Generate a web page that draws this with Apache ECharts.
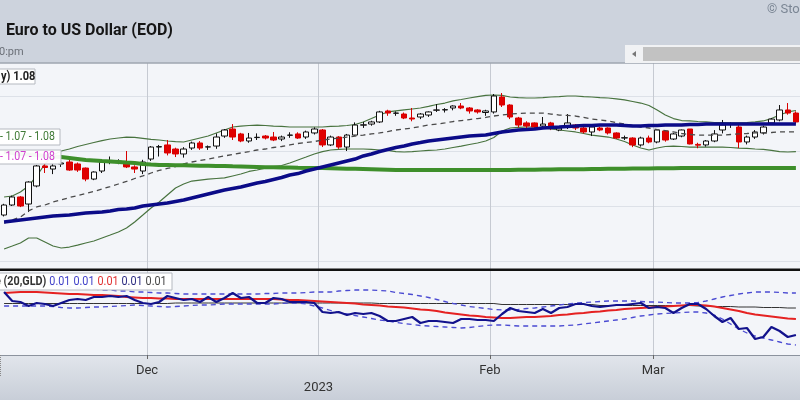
<!DOCTYPE html>
<html><head><meta charset="utf-8">
<script src="https://cdn.jsdelivr.net/npm/echarts@6/dist/echarts.min.js"></script>
<style>html,body{margin:0;padding:0;background:#fff}#c{width:800px;height:400px}</style>
</head><body><div id="c"></div>
<script>
const dates = [
'2022-11-07','2022-11-08','2022-11-09','2022-11-10','2022-11-11','2022-11-14','2022-11-15','2022-11-16','2022-11-17','2022-11-18',
'2022-11-21','2022-11-22','2022-11-23','2022-11-24','2022-11-25','2022-11-28','2022-11-29','2022-11-30',
'2022-12-01','2022-12-02','2022-12-05','2022-12-06','2022-12-07','2022-12-08','2022-12-09','2022-12-12','2022-12-13','2022-12-14',
'2022-12-15','2022-12-16','2022-12-19','2022-12-20','2022-12-21','2022-12-22','2022-12-23','2022-12-27','2022-12-28','2022-12-29','2022-12-30',
'2023-01-03','2023-01-04','2023-01-05','2023-01-06','2023-01-09','2023-01-10','2023-01-11','2023-01-12','2023-01-13','2023-01-16',
'2023-01-17','2023-01-18','2023-01-19','2023-01-20','2023-01-23','2023-01-24','2023-01-25','2023-01-26','2023-01-27','2023-01-30','2023-01-31',
'2023-02-01','2023-02-02','2023-02-03','2023-02-06','2023-02-07','2023-02-08','2023-02-09','2023-02-10','2023-02-13','2023-02-14',
'2023-02-15','2023-02-16','2023-02-17','2023-02-20','2023-02-21','2023-02-22','2023-02-23','2023-02-24','2023-02-27','2023-02-28',
'2023-03-01','2023-03-02','2023-03-03','2023-03-06','2023-03-07','2023-03-08','2023-03-09','2023-03-10','2023-03-13','2023-03-14',
'2023-03-15','2023-03-16','2023-03-17','2023-03-20','2023-03-21','2023-03-22','2023-03-23','2023-03-24'];

// [open, close, low, high]
const ohlc = [
[0.9918,1.0009,0.9905,1.0020],[1.0009,1.0082,1.0000,1.0095],[1.0082,1.0000,0.9990,1.0090],[1.0018,1.0218,0.9945,1.0225],[1.0182,1.0364,1.0170,1.0373],
[1.0364,1.0350,1.0300,1.0390],[1.0336,1.0364,1.0290,1.0391],[1.0382,1.0391,1.0355,1.0410],[1.0400,1.0327,1.0320,1.0420],[1.0382,1.0327,1.0310,1.0395],
[1.0345,1.0245,1.0225,1.0350],[1.0245,1.0309,1.0235,1.0315],[1.0318,1.0400,1.0300,1.0410],[1.0410,1.0414,1.0380,1.0450],[1.0405,1.0407,1.0380,1.0425],
[1.0391,1.0355,1.0345,1.0500],[1.0355,1.0336,1.0300,1.0370],[1.0318,1.0400,1.0290,1.0420],[1.0427,1.0536,1.0410,1.0545],[1.0536,1.0540,1.0450,1.0555],
[1.0555,1.0482,1.0460,1.0600],[1.0518,1.0473,1.0445,1.0530],[1.0473,1.0518,1.0440,1.0535],[1.0527,1.0573,1.0510,1.0585],[1.0573,1.0527,1.0510,1.0590],
[1.0536,1.0538,1.0510,1.0550],[1.0545,1.0627,1.0520,1.0660],[1.0636,1.0691,1.0620,1.0700],[1.0700,1.0627,1.0600,1.0745],[1.0655,1.0591,1.0580,1.0665],
[1.0591,1.0618,1.0575,1.0664],[1.0622,1.0625,1.0600,1.0660],[1.0636,1.0618,1.0605,1.0645],[1.0627,1.0600,1.0590,1.0673],[1.0609,1.0627,1.0590,1.0640],
[1.0643,1.0645,1.0620,1.0670],[1.0655,1.0618,1.0610,1.0670],[1.0627,1.0673,1.0610,1.0685],[1.0664,1.0700,1.0650,1.0715],[1.0691,1.0555,1.0536,1.0700],
[1.0555,1.0627,1.0545,1.0640],[1.0627,1.0536,1.0520,1.0635],[1.0536,1.0645,1.0500,1.0655],[1.0645,1.0736,1.0640,1.0760],[1.0735,1.0738,1.0710,1.0765],
[1.0745,1.0764,1.0730,1.0775],[1.0764,1.0855,1.0755,1.0865],[1.0864,1.0845,1.0820,1.0875],[1.0843,1.0845,1.0820,1.0860],[1.0836,1.0800,1.0790,1.0850],
[1.0800,1.0791,1.0770,1.0891],[1.0809,1.0836,1.0790,1.0845],[1.0827,1.0855,1.0810,1.0860],[1.0871,1.0873,1.0855,1.0927],[1.0873,1.0876,1.0850,1.0890],
[1.0891,1.0909,1.0870,1.0915],[1.0909,1.0891,1.0880,1.0936],[1.0891,1.0864,1.0840,1.0900],[1.0873,1.0855,1.0840,1.0880],[1.0850,1.0864,1.0820,1.0875],
[1.0855,1.1000,1.0840,1.1018],[1.0991,1.0918,1.0900,1.1027],[1.0918,1.0809,1.0790,1.0925],[1.0800,1.0736,1.0715,1.0810],[1.0755,1.0727,1.0700,1.0770],
[1.0755,1.0718,1.0695,1.0760],[1.0727,1.0745,1.0710,1.0809],[1.0755,1.0709,1.0690,1.0765],[1.0691,1.0709,1.0680,1.0720],[1.0727,1.0755,1.0700,1.0836],
[1.0736,1.0709,1.0690,1.0745],[1.0709,1.0673,1.0660,1.0720],[1.0673,1.0718,1.0636,1.0725],[1.0709,1.0691,1.0680,1.0720],[1.0709,1.0664,1.0650,1.0715],
[1.0664,1.0618,1.0610,1.0670],[1.0618,1.0621,1.0600,1.0640],[1.0618,1.0555,1.0535,1.0625],[1.0555,1.0618,1.0540,1.0630],[1.0618,1.0582,1.0570,1.0640],
[1.0582,1.0691,1.0570,1.0695],[1.0682,1.0600,1.0585,1.0690],[1.0609,1.0655,1.0600,1.0665],[1.0636,1.0691,1.0625,1.0695],[1.0700,1.0564,1.0560,1.0700],
[1.0560,1.0553,1.0525,1.0575],[1.0555,1.0591,1.0540,1.0600],[1.0591,1.0655,1.0580,1.0690],[1.0691,1.0736,1.0660,1.0782],[1.0743,1.0745,1.0710,1.0760],
[1.0718,1.0582,1.0527,1.0740],[1.0582,1.0627,1.0560,1.0640],[1.0627,1.0673,1.0610,1.0690],[1.0664,1.0718,1.0650,1.0730],[1.0755,1.0790,1.0740,1.0800],
[1.0782,1.0873,1.0770,1.0918],[1.0873,1.0845,1.0830,1.0936],[1.0845,1.0764,1.0745,1.0860]];

const ma20 = [
0.9845,0.9873,0.9900,0.9955,0.9991,1.0009,1.0036,1.0055,1.0077,1.0095,
1.0114,1.0132,1.0155,1.0177,1.0200,1.0223,1.0250,1.0273,1.0300,1.0323,
1.0341,1.0359,1.0382,1.0400,1.0414,1.0427,1.0441,1.0455,1.0468,1.0482,
1.0495,1.0509,1.0518,1.0532,1.0541,1.0555,1.0568,1.0577,1.0586,1.0600,
1.0609,1.0618,1.0627,1.0636,1.0645,1.0655,1.0664,1.0677,1.0691,1.0700,
1.0709,1.0723,1.0736,1.0745,1.0755,1.0768,1.0777,1.0786,1.0795,1.0805,
1.0818,1.0827,1.0836,1.0841,1.0845,1.0845,1.0845,1.0836,1.0827,1.0823,
1.0818,1.0805,1.0791,1.0782,1.0773,1.0759,1.0745,1.0732,1.0718,1.0709,
1.0695,1.0686,1.0673,1.0659,1.0650,1.0645,1.0645,1.0645,1.0645,1.0650,
1.0655,1.0659,1.0664,1.0664,1.0668,1.0673,1.0673,1.0673];

const bbUpper = [
1.0082,1.0091,1.0127,1.0182,1.0273,1.0382,1.0464,1.0500,1.0518,1.0541,
1.0559,1.0577,1.0595,1.0609,1.0618,1.0627,1.0623,1.0614,1.0605,1.0600,
1.0591,1.0586,1.0582,1.0600,1.0618,1.0636,1.0664,1.0691,1.0718,1.0727,
1.0732,1.0736,1.0732,1.0727,1.0723,1.0718,1.0718,1.0718,1.0718,1.0718,
1.0723,1.0727,1.0732,1.0741,1.0764,1.0795,1.0827,1.0855,1.0864,1.0873,
1.0882,1.0891,1.0905,1.0923,1.0936,1.0955,1.0968,1.0982,1.0995,1.1005,
1.1009,1.1005,1.0991,1.0986,1.0982,1.0982,1.0986,1.0991,1.0995,1.1000,
1.1000,1.0995,1.0991,1.0986,1.0982,1.0973,1.0964,1.0950,1.0936,1.0914,
1.0873,1.0827,1.0795,1.0777,1.0773,1.0768,1.0764,1.0759,1.0759,1.0755,
1.0755,1.0759,1.0764,1.0773,1.0795,1.0827,1.0855,1.0868];

const bbLower = [
0.9609,0.9636,0.9664,0.9709,0.9709,0.9673,0.9636,0.9618,0.9627,0.9645,
0.9664,0.9682,0.9709,0.9736,0.9764,0.9800,0.9855,0.9918,0.9982,1.0036,
1.0100,1.0164,1.0200,1.0227,1.0236,1.0245,1.0250,1.0255,1.0273,1.0291,
1.0314,1.0327,1.0345,1.0359,1.0368,1.0391,1.0418,1.0445,1.0473,1.0495,
1.0509,1.0514,1.0518,1.0518,1.0518,1.0514,1.0509,1.0505,1.0495,1.0491,
1.0495,1.0500,1.0505,1.0509,1.0518,1.0532,1.0545,1.0559,1.0573,1.0591,
1.0623,1.0682,1.0709,1.0714,1.0718,1.0718,1.0709,1.0700,1.0691,1.0682,
1.0673,1.0659,1.0645,1.0636,1.0627,1.0609,1.0586,1.0555,1.0527,1.0509,
1.0527,1.0541,1.0545,1.0541,1.0536,1.0536,1.0536,1.0536,1.0536,1.0532,
1.0527,1.0523,1.0518,1.0514,1.0505,1.0495,1.0491,1.0495];

const ma50 = [
0.9855,0.9864,0.9873,0.9882,0.9891,0.9900,0.9909,0.9914,0.9918,0.9927,
0.9936,0.9941,0.9945,0.9955,0.9968,0.9973,0.9982,1.0000,1.0009,1.0018,
1.0027,1.0041,1.0055,1.0073,1.0091,1.0109,1.0127,1.0145,1.0159,1.0173,
1.0191,1.0209,1.0223,1.0241,1.0259,1.0282,1.0295,1.0318,1.0336,1.0355,
1.0373,1.0391,1.0409,1.0427,1.0455,1.0473,1.0495,1.0514,1.0532,1.0545,
1.0564,1.0577,1.0591,1.0600,1.0609,1.0618,1.0627,1.0636,1.0641,1.0645,
1.0659,1.0673,1.0682,1.0691,1.0695,1.0700,1.0709,1.0714,1.0718,1.0723,
1.0727,1.0732,1.0732,1.0736,1.0736,1.0736,1.0732,1.0727,1.0727,1.0732,
1.0732,1.0736,1.0736,1.0736,1.0741,1.0741,1.0745,1.0745,1.0745,1.0745,
1.0745,1.0745,1.0745,1.0745,1.0745,1.0745,1.0745,1.0745];

const ma200 = [
1.0491,1.0482,1.0473,1.0468,1.0464,1.0455,1.0450,1.0445,1.0436,1.0427,
1.0418,1.0414,1.0409,1.0405,1.0400,1.0395,1.0391,1.0382,1.0377,1.0373,
1.0373,1.0371,1.0370,1.0368,1.0366,1.0366,1.0364,1.0364,1.0361,1.0359,
1.0357,1.0355,1.0353,1.0352,1.0350,1.0349,1.0347,1.0346,1.0345,1.0345,
1.0343,1.0341,1.0339,1.0338,1.0336,1.0334,1.0332,1.0330,1.0327,1.0327,
1.0327,1.0327,1.0327,1.0327,1.0327,1.0327,1.0327,1.0327,1.0327,1.0327,
1.0327,1.0328,1.0328,1.0329,1.0330,1.0330,1.0331,1.0332,1.0333,1.0334,
1.0334,1.0335,1.0336,1.0337,1.0338,1.0339,1.0339,1.0340,1.0341,1.0342,
1.0343,1.0343,1.0344,1.0345,1.0345,1.0345,1.0345,1.0345,1.0345,1.0345,
1.0345,1.0345,1.0345,1.0345,1.0345,1.0345,1.0345,1.0345];

// lower panel: EUR/USD : GLD ratio and its bands
const ratio = [
0.00626,0.00608,0.00606,0.00598,0.00604,0.00602,0.00598,0.00604,0.00610,0.00612,
0.00610,0.00616,0.00616,0.00618,0.00616,0.00618,0.00610,0.00604,0.00602,0.00606,
0.00618,0.00614,0.00610,0.00612,0.00606,0.00616,0.00606,0.00614,0.00624,0.00614,
0.00616,0.00604,0.00604,0.00614,0.00612,0.00606,0.00606,0.00606,0.00604,0.00586,
0.00584,0.00586,0.00580,0.00584,0.00582,0.00584,0.00578,0.00568,0.00568,0.00572,
0.00576,0.00564,0.00568,0.00568,0.00566,0.00564,0.00572,0.00572,0.00570,0.00570,
0.00568,0.00582,0.00594,0.00588,0.00586,0.00584,0.00592,0.00584,0.00594,0.00596,
0.00602,0.00602,0.00598,0.00596,0.00598,0.00600,0.00600,0.00602,0.00604,0.00594,
0.00596,0.00594,0.00584,0.00594,0.00602,0.00602,0.00592,0.00578,0.00566,0.00574,
0.00552,0.00554,0.00532,0.00536,0.00556,0.00548,0.00536,0.00540];

const ratioMA = [
0.00624,0.00625,0.00626,0.00626,0.00626,0.00625,0.00624,0.00623,0.00622,0.00622,
0.00621,0.00620,0.00620,0.00619,0.00618,0.00616,0.00615,0.00614,0.00614,0.00613,
0.00613,0.00612,0.00612,0.00612,0.00612,0.00612,0.00612,0.00612,0.00612,0.00612,
0.00612,0.00612,0.00612,0.00612,0.00611,0.00610,0.00610,0.00609,0.00608,0.00607,
0.00606,0.00605,0.00604,0.00603,0.00601,0.00600,0.00599,0.00597,0.00596,0.00595,
0.00593,0.00591,0.00590,0.00588,0.00585,0.00583,0.00581,0.00579,0.00578,0.00576,
0.00575,0.00574,0.00574,0.00575,0.00576,0.00576,0.00577,0.00578,0.00580,0.00581,
0.00583,0.00584,0.00586,0.00587,0.00589,0.00590,0.00592,0.00593,0.00594,0.00595,
0.00596,0.00597,0.00598,0.00599,0.00600,0.00600,0.00599,0.00597,0.00594,0.00591,
0.00588,0.00584,0.00581,0.00579,0.00577,0.00575,0.00573,0.00572];

const ratioUpper = [
0.00634,0.00634,0.00636,0.00638,0.00640,0.00640,0.00640,0.00638,0.00636,0.00634,
0.00632,0.00632,0.00630,0.00630,0.00628,0.00628,0.00626,0.00626,0.00625,0.00624,
0.00624,0.00623,0.00622,0.00622,0.00622,0.00622,0.00622,0.00622,0.00622,0.00622,
0.00622,0.00622,0.00623,0.00623,0.00624,0.00624,0.00624,0.00625,0.00626,0.00626,
0.00626,0.00628,0.00629,0.00630,0.00630,0.00630,0.00629,0.00628,0.00625,0.00623,
0.00621,0.00618,0.00615,0.00611,0.00607,0.00603,0.00600,0.00597,0.00595,0.00593,
0.00591,0.00590,0.00590,0.00591,0.00593,0.00594,0.00596,0.00598,0.00600,0.00602,
0.00604,0.00605,0.00606,0.00607,0.00608,0.00608,0.00608,0.00608,0.00607,0.00606,
0.00606,0.00605,0.00604,0.00604,0.00604,0.00605,0.00608,0.00612,0.00616,0.00619,
0.00622,0.00624,0.00626,0.00626,0.00626,0.00625,0.00624,0.00624];

const ratioLower = [
0.00598,0.00598,0.00598,0.00598,0.00598,0.00598,0.00597,0.00595,0.00594,0.00594,
0.00595,0.00596,0.00596,0.00597,0.00598,0.00599,0.00600,0.00599,0.00598,0.00597,
0.00596,0.00597,0.00598,0.00599,0.00600,0.00600,0.00601,0.00602,0.00602,0.00602,
0.00602,0.00602,0.00602,0.00602,0.00603,0.00604,0.00604,0.00602,0.00598,0.00594,
0.00589,0.00585,0.00582,0.00579,0.00576,0.00573,0.00570,0.00568,0.00565,0.00563,
0.00561,0.00559,0.00558,0.00557,0.00556,0.00555,0.00554,0.00555,0.00557,0.00559,
0.00560,0.00560,0.00559,0.00558,0.00558,0.00558,0.00558,0.00558,0.00558,0.00559,
0.00560,0.00562,0.00564,0.00566,0.00568,0.00570,0.00572,0.00575,0.00578,0.00580,
0.00582,0.00583,0.00584,0.00585,0.00586,0.00586,0.00584,0.00580,0.00572,0.00562,
0.00552,0.00544,0.00538,0.00534,0.00530,0.00526,0.00522,0.00520];

const ratioLong = [
0.00603,0.00603,0.00603,0.00603,0.00603,0.00603,0.00603,0.00603,0.00603,0.00603,
0.00603,0.00603,0.00603,0.00603,0.00603,0.00603,0.00603,0.00603,0.00603,0.00603,
0.00603,0.00604,0.00604,0.00604,0.00604,0.00604,0.00604,0.00604,0.00604,0.00604,
0.00604,0.00604,0.00604,0.00604,0.00604,0.00604,0.00604,0.00604,0.00604,0.00604,
0.00604,0.00604,0.00604,0.00604,0.00604,0.00604,0.00603,0.00603,0.00603,0.00603,
0.00603,0.00603,0.00603,0.00603,0.00603,0.00603,0.00603,0.00603,0.00603,0.00603,
0.00603,0.00601,0.00601,0.00601,0.00601,0.00601,0.00601,0.00601,0.00601,0.00601,
0.00601,0.00601,0.00601,0.00599,0.00599,0.00599,0.00599,0.00599,0.00599,0.00599,
0.00599,0.00599,0.00599,0.00599,0.00599,0.00598,0.00598,0.00597,0.00597,0.00597,
0.00596,0.00596,0.00596,0.00595,0.00595,0.00595,0.00594,0.00594];

const tickDates = ['2022-12-01','2023-01-03','2023-02-01','2023-03-01'];
const tickLabels = ['Dec','\n2023','Feb','Mar'];
const priceLegend = '1.08';
const bbLegend = '- 1.07 - 1.08';
const maLegend = '- 1.07 - 1.08';
const ratioLegend = ['0.01','0.01','0.01','0.01','0.01'];

const N = dates.length;
const band = 8.22;
const tickIdx = tickDates.map(d => dates.indexOf(d));
const janIdx = tickIdx[1];
const isTick = i => tickIdx.indexOf(i) >= 0;

const chart = echarts.init(document.getElementById('c'));
const line = (name, data, x, y, color, width, type, z) => ({
  name, type: 'line', data, xAxisIndex: x, yAxisIndex: y, showSymbol: false, symbol: 'none',
  lineStyle: { color, width, type: type || 'solid' }, z: z || 4, silent: true
});
const VA = { textVerticalAlign: 'middle', verticalAlign: 'middle' };

chart.setOption({
  animation: false,
  backgroundColor: '#f3f5f9',
  grid: [
    { left: 0, top: 63, width: N * band, height: 198 },
    { left: 0, top: 271, width: N * band, height: 84 },
    { left: 0, top: 63, width: N * band, height: 292 }
  ],
  xAxis: [
    { gridIndex: 0, type: 'category', data: dates, boundaryGap: true, axisLine: { show: false }, axisTick: { show: false }, axisLabel: { show: false }, splitLine: { show: false } },
    { gridIndex: 1, type: 'category', data: dates, boundaryGap: true, position: 'bottom',
      axisLine: { show: true, lineStyle: { color: '#8c939e', width: 1 } },
      axisTick: { show: true, interval: (i) => isTick(i) && i !== janIdx, length: 4, lineStyle: { color: '#666' } },
      axisLabel: { show: true, interval: (i) => isTick(i), formatter: (v, i) => tickLabels[tickIdx.indexOf(i)] || '',
        margin: 7, lineHeight: 17, color: '#333', fontSize: 13, fontFamily: 'Roboto', padding: [0, 8, 0, 0] },
      splitLine: { show: false } },
    { gridIndex: 1, type: 'category', data: dates, boundaryGap: true, position: 'bottom', offset: 0,
      axisLine: { show: false }, axisLabel: { show: false },
      axisTick: { show: true, interval: (i) => i === janIdx, length: 22, lineStyle: { color: '#888', type: 'dotted' } } },
    { gridIndex: 2, type: 'category', data: dates, boundaryGap: true, axisLine: { show: false }, axisTick: { show: false }, axisLabel: { show: false },
      splitLine: { show: true, interval: (i) => isTick(i), lineStyle: { color: '#c6cad2', width: 1 } } }
  ],
  yAxis: [
    { gridIndex: 0, type: 'value', min: 0.95, max: 1.13, interval: 0.05, axisLine: { show: false }, axisTick: { show: false }, axisLabel: { show: false },
      splitLine: { show: true, lineStyle: { color: '#dde1e8', width: 1 } } },
    { gridIndex: 1, type: 'value', min: 0.0050, max: 0.00668, axisLine: { show: false }, axisTick: { show: false }, axisLabel: { show: false }, splitLine: { show: false } },
    { gridIndex: 2, type: 'value', show: false }
  ],
  series: [
    line('BB upper', bbUpper, 0, 0, '#48733f', 1.2, 'solid', 3),
    line('BB lower', bbLower, 0, 0, '#48733f', 1.2, 'solid', 3),
    { name: 'EUR/USD', type: 'candlestick', data: ohlc, xAxisIndex: 0, yAxisIndex: 0, barWidth: 6, z: 4, silent: true,
      itemStyle: { color: '#ffffff', color0: '#e00000', borderColor: '#111111', borderColor0: '#d80000', borderWidth: 1 } },
    line('MA20', ma20, 0, 0, '#4a4a4a', 1.3, [5, 4], 5),
    line('MA200', ma200, 0, 0, '#3e8f2b', 4, 'solid', 5),
    line('MA50', ma50, 0, 0, '#0b0b88', 3.5, 'solid', 6),
    line('Long', ratioLong, 1, 1, '#333333', 1, 'solid', 3),
    line('Upper', ratioUpper, 1, 1, '#4a4ad2', 1.3, [5, 4], 3),
    line('Lower', ratioLower, 1, 1, '#4a4ad2', 1.3, [5, 4], 3),
    line('MA', ratioMA, 1, 1, '#e52222', 2.2, 'solid', 4),
    line('Ratio', ratio, 1, 1, '#12128c', 2.2, 'solid', 5)
  ],
  graphic: [
    { type: 'rect', z: -1, shape: { x: 0, y: 0, width: 800, height: 63 }, style: { fill: '#cdd3dd' } },
    { type: 'rect', z: -1, shape: { x: 0, y: 356, width: 800, height: 44 },
      style: { fill: new echarts.graphic.LinearGradient(0, 0, 0, 1, [{ offset: 0, color: '#e1e5eb' }, { offset: 1, color: '#c8ced8' }]) } },
    { type: 'rect', z: 20, shape: { x: 0, y: 62.5, width: 800, height: 1 }, style: { fill: '#8a919b' } },
    { type: 'rect', z: 20, shape: { x: 0, y: 268.5, width: 800, height: 2.5 }, style: { fill: '#111' } },
    { type: 'text', z: 20, x: 6, y: 31, style: Object.assign({ text: 'Euro to US Dollar (EOD)', font: 'bold 16px Roboto', fill: '#161616' }, VA) },
    { type: 'text', z: 20, x: -1, y: 52, style: Object.assign({ text: '0:pm', font: '11px Roboto', fill: '#6b7078' }, VA) },
    { type: 'text', z: 20, x: 767, y: 10, style: Object.assign({ text: '© Sto', font: '13px Roboto', fill: '#7b8694' }, VA) },
    { type: 'rect', z: 20, shape: { x: 625, y: 45, width: 180, height: 18 }, style: { fill: '#f1f2f4' } },
    { type: 'rect', z: 21, shape: { x: 643, y: 47, width: 160, height: 14 }, style: { fill: '#c2c2c2' } },
    { type: 'polygon', z: 21, shape: { points: [[632, 54], [636, 51], [636, 57]] }, style: { fill: '#777' } },
    { type: 'rect', z: 30, shape: { x: -1, y: 69, width: 36, height: 15 }, style: { fill: 'rgba(255,255,255,0.95)', stroke: '#b5b9c0', lineWidth: 1 } },
    { type: 'text', z: 31, x: 1, y: 77, scaleX: 0.92, style: Object.assign({ text: 'y) ' + priceLegend, font: 'bold 12px Roboto', fill: '#222' }, VA) },
    { type: 'rect', z: 30, shape: { x: -1, y: 129, width: 61, height: 16 }, style: { fill: 'rgba(255,255,255,0.95)', stroke: '#b5b9c0', lineWidth: 1 } },
    { type: 'text', z: 31, x: 0, y: 137, scaleX: 0.88, style: Object.assign({ text: bbLegend, font: '12px Roboto', fill: '#3f7a35' }, VA) },
    { type: 'rect', z: 30, shape: { x: -1, y: 150, width: 62, height: 14 }, style: { fill: 'rgba(255,255,255,0.95)', stroke: '#b5b9c0', lineWidth: 1 } },
    { type: 'text', z: 31, x: 0, y: 157, scaleX: 0.88, style: Object.assign({ text: maLegend, font: '12px Roboto', fill: '#d040d0' }, VA) },
    { type: 'rect', z: 30, shape: { x: -1, y: 273, width: 173, height: 17 }, style: { fill: 'rgba(255,255,255,0.95)', stroke: '#b5b9c0', lineWidth: 1 } },
    { type: 'text', z: 31, x: -5, y: 282, scaleX: 0.9, style: Object.assign({
        text: '{k|e (20,GLD)} {b|' + ratioLegend[0] + '} {b|' + ratioLegend[1] + '} {r|' + ratioLegend[2] + '} {n|' + ratioLegend[3] + '} {g|' + ratioLegend[4] + '}',
        rich: {
          k: { font: 'bold 12px Roboto', fill: '#333', color: '#333' },
          b: { font: '12px Roboto', fill: '#4040c8', color: '#4040c8' },
          r: { font: '12px Roboto', fill: '#e03030', color: '#e03030' },
          n: { font: '12px Roboto', fill: '#2a2a80', color: '#2a2a80' },
          g: { font: '12px Roboto', fill: '#444', color: '#444' }
        } }, VA) }
  ]
});
</script></body></html>
